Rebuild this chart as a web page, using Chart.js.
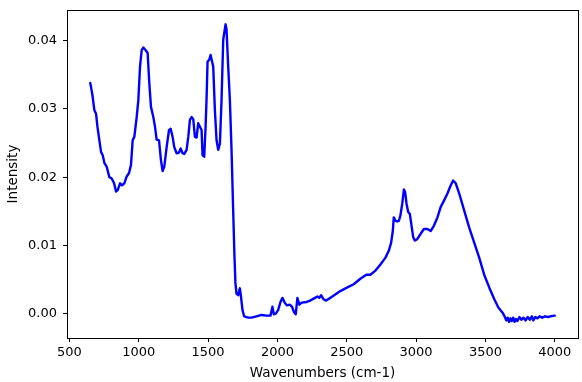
<!DOCTYPE html>
<html>
<head>
<meta charset="utf-8">
<script src="https://cdn.jsdelivr.net/npm/chart.js@4/dist/chart.umd.min.js"></script>
<style>
html,body{margin:0;padding:0;background:#fff;}
#wrap{width:582px;height:382px;}
</style>
</head>
<body>
<div id="wrap"><canvas id="c" width="582" height="382"></canvas></div>
<script>
const wavenumbers = [650,656,666,680,692,702,716,728,740,752,769,788,805,822,836,848,865,879,896,913,930,944,956,968,985,997,1009,1021,1033,1050,1064,1076,1088,1105,1117,1129,1146,1160,1172,1184,1201,1218,1230,1244,1256,1273,1290,1302,1316,1328,1345,1357,1369,1381,1393,1405,1417,1429,1441,1453,1460,1472,1482,1489,1496,1508,1518,1529,1537,1549,1561,1573,1585,1597,1609,1616,1626,1633,1645,1657,1669,1681,1690,1697,1705,1717,1729,1736,1748,1760,1789,1813,1849,1885,1921,1950,1964,1974,1988,2005,2022,2036,2053,2069,2089,2105,2120,2132,2144,2158,2175,2211,2235,2271,2288,2302,2315,2332,2351,2380,2417,2453,2501,2550,2598,2641,2670,2707,2743,2779,2803,2820,2832,2839,2852,2864,2876,2887,2900,2912,2921,2931,2943,2955,2967,2979,2991,3008,3033,3056,3081,3105,3129,3154,3177,3202,3226,3250,3267,3286,3311,3347,3383,3419,3455,3491,3528,3564,3593,3625,3640,3650,3660,3670,3680,3690,3700,3710,3720,3730,3745,3760,3775,3790,3805,3820,3835,3845,3860,3875,3890,3910,3930,3950,3970,4000];
const intensity = [0.0338,0.0332,0.0320,0.0298,0.0293,0.0274,0.0254,0.0237,0.0232,0.0221,0.0215,0.0200,0.0198,0.0191,0.0179,0.0181,0.0191,0.0188,0.0191,0.0201,0.0206,0.0218,0.0254,0.0259,0.0288,0.0313,0.0362,0.0386,0.0390,0.0386,0.0382,0.0338,0.0303,0.0288,0.0274,0.0255,0.0254,0.0225,0.0209,0.0215,0.0244,0.0269,0.0271,0.0259,0.0244,0.0235,0.0236,0.0242,0.0235,0.0234,0.0240,0.0259,0.0284,0.0288,0.0285,0.0259,0.0258,0.0279,0.0274,0.0269,0.0232,0.0230,0.0274,0.0316,0.0369,0.0372,0.0379,0.0369,0.0362,0.0298,0.0254,0.0240,0.0249,0.0313,0.0401,0.0411,0.0424,0.0416,0.0362,0.0313,0.0240,0.0150,0.0085,0.0045,0.0029,0.0027,0.0037,0.0027,0.0005,-0.0004,-0.0006,-0.0006,-0.0004,-0.0002,-0.0003,-0.0003,0.0010,-0.0001,0.0000,0.0005,0.0017,0.0023,0.0016,0.0012,0.0013,0.0010,0.0002,-0.0001,0.0023,0.0013,0.0016,0.0017,0.0019,0.0023,0.0025,0.0023,0.0027,0.0021,0.0019,0.0023,0.0028,0.0033,0.0038,0.0043,0.0051,0.0057,0.0057,0.0063,0.0072,0.0082,0.0092,0.0104,0.0121,0.0141,0.0136,0.0135,0.0136,0.0144,0.0161,0.0182,0.0178,0.0161,0.0149,0.0146,0.0129,0.0112,0.0107,0.0109,0.0117,0.0124,0.0124,0.0121,0.0129,0.0141,0.0156,0.0166,0.0176,0.0188,0.0195,0.0191,0.0176,0.0151,0.0126,0.0104,0.0082,0.0057,0.0038,0.0021,0.0009,0.0001,-0.0005,-0.0010,-0.0006,-0.0012,-0.0007,-0.0011,-0.0006,-0.0012,-0.0008,-0.0011,-0.0005,-0.0009,-0.0006,-0.0010,-0.0005,-0.0009,-0.0004,-0.0010,-0.0005,-0.0007,-0.0004,-0.0006,-0.0004,-0.0005,-0.0004,-0.0003];
const xTicks = [500,1000,1500,2000,2500,3000,3500,4000];
const yTicks = [0.00,0.01,0.02,0.03,0.04];
const xLabel = 'Wavenumbers (cm-1)';
const yLabel = 'Intensity';

const points = wavenumbers.map((w,i)=>({x:w,y:intensity[i]}));
const FONT = 'DejaVu Sans';

const frame = {
  id:'frame',
  afterDraw(chart){
    const {ctx, chartArea:a} = chart;
    ctx.save();
    ctx.strokeStyle = '#000';
    ctx.lineWidth = 1;
    ctx.strokeRect(Math.round(a.left)+0.5, Math.round(a.top)+0.5, Math.round(a.right-a.left), Math.round(a.bottom-a.top));
    ctx.restore();
  }
};

new Chart(document.getElementById('c'), {
  type:'line',
  data:{datasets:[{data:points,borderColor:'#0000ff',borderWidth:2.4,pointRadius:0,tension:0,fill:false,borderJoinStyle:'round',borderCapStyle:'round'}]},
  options:{
    responsive:false,
    animation:false,
    layout:{padding:{left:0,right:4,top:10,bottom:0}},
    plugins:{legend:{display:false},tooltip:{enabled:false}},
    scales:{
      x:{type:'linear',min:482.5,max:4167.5,
        afterBuildTicks(s){s.ticks = xTicks.map(v=>({value:v}));},
        afterFit(s){s.height = 44; s.paddingLeft = 0; s.paddingRight = 0;},
        grid:{display:true,drawOnChartArea:false,drawTicks:true,tickLength:4,color:'#000'},
        border:{display:true,color:'#000',width:1},
        ticks:{color:'#000',font:{family:FONT,size:13},padding:3,maxRotation:0,autoSkip:false,callback:v=>String(v)},
        title:{display:true,text:xLabel,color:'#000',font:{family:FONT,size:13.5},padding:{top:1,bottom:0}}
      },
      y:{type:'linear',min:-0.00358,max:0.0445,
        afterBuildTicks(s){s.ticks = yTicks.map(v=>({value:v}));},
        afterFit(s){s.width = 67; s.paddingTop = 0; s.paddingBottom = 0;},
        grid:{display:true,drawOnChartArea:false,drawTicks:true,tickLength:4,color:'#000'},
        border:{display:true,color:'#000',width:1},
        ticks:{color:'#000',font:{family:FONT,size:13},padding:6,autoSkip:false,callback:v=>Number(v).toFixed(2)},
        title:{display:true,text:yLabel,color:'#000',font:{family:FONT,size:13.5},padding:{top:5,bottom:0}}
      }
    }
  },
  plugins:[frame]
});
</script>
</body>
</html>
